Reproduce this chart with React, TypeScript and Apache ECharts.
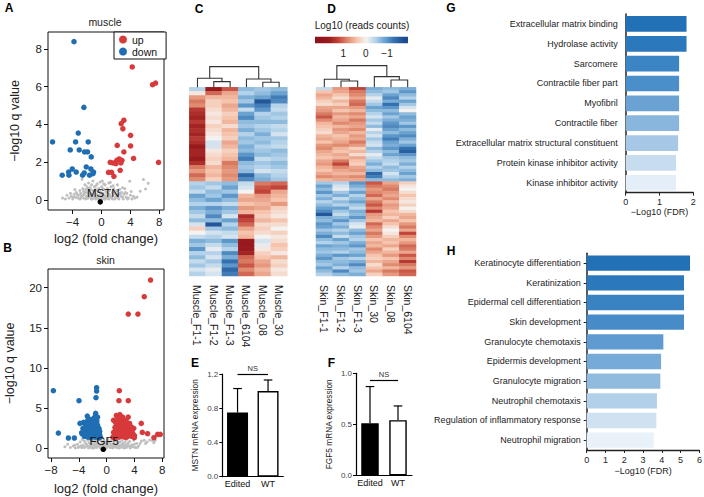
import React, { useEffect, useRef } from "react";
import * as echarts from "echarts";

const FONT = "'Liberation Sans', Arial, Helvetica, sans-serif";

// ---------- Panel A: muscle volcano ----------
const muscleUp = [[4.25,7.04],[7.06,6.1],[7.48,6.19],[3.09,4.22],[2.72,4.04],[2.95,3.77],[4.02,3.42],[2.17,2.89],[4.02,2.86],[3.09,2.54],[4.43,2.2],[7.89,1.99],[1.2,1.99],[1.57,1.96],[2.12,2.1],[2.45,2.17],[2.68,1.96],[1.98,1.92],[2.82,2.1],[0.97,1.46],[1.39,1.46],[1.71,1.25],[2.58,1.57]];
const muscleDown = [[-3.82,8.38],[-2.45,4.9],[-6.79,3.07],[-3.23,3.54],[-3.6,3.07],[-1.85,3.07],[-4.34,2.65],[-3.09,2.65],[-2.35,2.54],[-1.94,2.54],[-1.43,2.28],[-4.06,1.64],[-2.12,1.75],[-1.48,1.64],[-4.57,1.48],[-3.51,1.48],[-2.4,1.43],[-1.11,1.48],[-5.45,1.31],[-4.52,1.31],[-2.63,1.31],[-1.66,1.31],[-1.2,1.39]];
const muscleNS = [[-4.5,0.1],[-4.2,0.2],[-4.0,0.05],[-3.8,0.3],[-3.6,0.15],[-3.5,0.4],[-3.3,0.1],[-3.2,0.25],[-3.0,0.5],[-3.0,0.05],[-2.9,0.35],[-2.8,0.2],[-2.7,1.1],[-2.6,0.6],[-2.5,0.1],[-2.5,0.45],[-2.4,0.3],[-2.3,0.8],[-2.2,0.05],[-2.2,0.55],[-2.1,0.2],[-2.0,0.4],[-2.0,0.7],[-1.9,0.1],[-1.8,0.3],[-1.8,0.9],[-1.7,0.5],[-1.6,0.15],[-1.6,0.65],[-1.5,0.35],[-1.4,0.05],[-1.4,0.8],[-1.3,0.25],[-1.2,0.5],[-1.2,1.0],[-1.1,0.1],[-1.0,0.4],[-1.0,0.7],[-0.9,0.2],[-0.8,0.55],[-0.8,0.05],[-0.7,0.3],[-0.6,0.85],[-0.6,0.15],[-0.5,0.45],[-0.4,0.05],[-0.4,0.6],[-0.3,0.25],[-0.2,0.95],[-0.2,0.1],[-0.1,0.4],[0.0,0.2],[0.0,0.7],[0.1,0.05],[0.1,1.0],[0.2,0.35],[0.3,0.55],[0.3,0.1],[0.4,0.25],[0.5,0.8],[0.5,0.05],[0.6,0.45],[0.7,0.2],[0.8,0.6],[0.8,0.1],[0.9,0.35],[1.0,0.9],[1.0,0.05],[1.1,0.5],[1.2,0.2],[1.2,0.93],[1.3,0.7],[1.4,0.1],[1.5,0.4],[1.6,0.25],[1.7,0.6],[1.8,0.05],[1.9,0.35],[2.0,0.15],[2.1,0.5],[2.2,0.8],[2.3,0.1],[2.4,0.3],[2.5,0.55],[2.7,0.2],[2.8,0.4],[3.0,0.05],[3.1,0.3],[3.2,0.6],[3.4,0.15],[3.5,0.35],[3.7,0.1],[3.9,0.99],[4.0,0.25],[4.2,0.05],[4.4,0.2],[4.6,0.1],[4.9,0.15],[5.35,0.46],[5.8,1.08],[6.1,0.58],[6.46,0.88],[-5.0,0.05],[-5.4,0.1],[-4.8,0.25],
  [-3.9,0.15],[-3.4,0.3],[-2.9,0.1],[-2.6,0.25],[-2.3,0.4],[-2.0,0.1],[-1.7,0.25],[-1.5,0.55],[-1.3,0.05],[-1.1,0.3],[-0.9,0.45],[-0.7,0.1],[-0.5,0.2],[-0.3,0.5],[-0.1,0.1],[0.1,0.3],[0.2,0.6],[0.4,0.05],[0.6,0.15],[0.7,0.4],[0.9,0.1],[1.1,0.3],[1.3,0.15],[1.5,0.05],[1.7,0.35],[1.9,0.1],[2.1,0.25],[2.4,0.05],[2.6,0.35],[2.9,0.15],[3.3,0.4],[3.6,0.05],[-4.3,0.35],[-3.7,0.55],[-1.9,0.6],[0.3,0.85],[1.6,0.75],[2.9,0.65],[-0.8,0.75],[4.1,0.45]];
const muscleGene = [[-0.18, -0.1]];
const muscleGeneName = "MSTN";
const muscleXTicks = [-4, 0, 4, 8];
const muscleYTicks = [0, 2, 4, 6, 8];

// ---------- Panel B: skin volcano ----------
const skinUp = [[6.32,20.95],[5.41,18.88],[3.11,16.72],[4.5,16.72],[1.82,7.18],[1.77,5.93],[3.11,5.93],[4.98,3.11],[5.13,1.99],[5.89,1.83],[7.33,1.74],[7.71,1.74],[6.8,1.33],[3.98,1.33],[0.9,1.4],[1.0,2.0],[1.1,1.6],[1.2,2.6],[1.2,1.3],[1.3,3.2],[1.4,1.9],[1.4,4.1],[1.5,2.3],[1.5,1.5],[1.6,3.8],[1.6,2.8],[1.7,1.7],[1.7,2.1],[1.8,3.4],[1.8,1.4],[1.9,2.5],[1.9,4.2],[2.0,1.9],[2.0,3.0],[2.1,1.5],[2.1,2.7],[2.2,3.6],[2.2,2.2],[2.3,1.6],[2.3,3.9],[2.4,2.9],[2.4,1.8],[2.5,2.4],[2.5,3.3],[2.6,1.4],[2.6,2.0],[2.7,3.0],[2.7,2.6],[2.8,1.7],[2.8,3.5],[2.9,2.2],[3.0,1.5],[3.0,2.8],[3.1,3.9],[3.1,1.9],[3.2,2.4],[3.3,1.6],[3.3,3.1],[3.4,2.1],[3.5,2.7],[3.6,1.5],[3.7,2.3],[3.8,1.8],[3.9,2.5],[4.0,1.6],[1.0,3.5],[1.3,2.4],[2.0,2.4],[2.9,1.4]];
const skinDown = [[-7.66,7.18],[-1.44,7.55],[-1.44,7.14],[-1.53,6.31],[-3.97,5.93],[-1.58,4.36],[-2.78,4.02],[-3.83,3.11],[-3.3,3.24],[-6.94,1.91],[-5.5,1.29],[-4.64,1.29],[-3.59,1.95],[-3.5,1.8],[-3.4,2.5],[-3.3,3.2],[-3.2,1.5],[-3.1,2.2],[-3.0,3.0],[-2.9,1.7],[-2.9,2.7],[-2.8,2.0],[-2.7,3.5],[-2.7,1.4],[-2.6,2.4],[-2.5,1.9],[-2.5,3.0],[-2.4,2.6],[-2.3,1.5],[-2.3,3.6],[-2.2,2.1],[-2.1,2.9],[-2.1,1.7],[-2.0,2.4],[-2.0,3.3],[-1.9,1.5],[-1.9,2.0],[-1.8,2.7],[-1.8,3.8],[-1.7,1.8],[-1.7,2.3],[-1.6,3.1],[-1.6,1.4],[-1.5,2.0],[-1.5,2.6],[-1.4,1.6],[-1.4,3.4],[-1.3,2.2],[-1.3,2.9],[-1.2,1.5],[-1.2,1.9],[-1.1,2.5],[-1.1,1.3],[-1.0,1.7],[-1.0,2.1],[-0.9,1.4],[-2.6,1.6],[-3.0,2.6],[-2.2,1.3],[-1.6,4.0],[-1.3,3.9]];
const skinNS = [[-5.2,0.1],[-4.8,0.3],[-4.5,0.05],[-4.2,0.5],[-4.0,0.2],[-3.8,0.8],[-3.6,0.1],[-3.4,0.4],[-3.2,0.9],[-3.1,0.15],[-3.0,0.6],[-2.8,0.3],[-2.7,1.0],[-2.6,0.05],[-2.5,0.7],[-2.4,0.35],[-2.3,1.1],[-2.2,0.15],[-2.1,0.55],[-2.0,0.9],[-1.9,0.25],[-1.8,0.05],[-1.7,0.7],[-1.6,1.0],[-1.5,0.4],[-1.4,0.1],[-1.3,0.8],[-1.2,0.3],[-1.1,1.1],[-1.0,0.5],[-0.9,0.05],[-0.8,0.9],[-0.7,0.3],[-0.6,0.6],[-0.5,0.1],[-0.4,1.0],[-0.3,0.4],[-0.2,0.2],[-0.1,0.75],[0.0,0.05],[0.1,0.5],[0.2,1.1],[0.3,0.25],[0.4,0.8],[0.5,0.1],[0.6,0.55],[0.7,1.0],[0.8,0.35],[0.9,0.05],[1.0,0.7],[1.1,0.2],[1.2,0.95],[1.3,0.45],[1.4,0.1],[1.5,0.65],[1.6,1.1],[1.7,0.3],[1.8,0.05],[1.9,0.8],[2.0,0.4],[2.1,0.15],[2.2,1.0],[2.3,0.6],[2.4,0.25],[2.5,0.05],[2.6,0.75],[2.7,0.4],[2.8,1.05],[2.9,0.15],[3.0,0.5],[3.2,0.3],[3.3,0.85],[3.4,0.05],[3.6,0.45],[3.8,0.2],[3.9,1.0],[4.1,0.1],[4.3,0.6],[4.6,0.3],[5.0,0.9],[5.4,1.0],[5.8,0.8],[6.2,1.05],[6.6,0.95],[7.0,1.0],[-6.0,0.2],[-0.5,0.35],[0.5,0.3],[-1.5,0.2],[1.5,0.15],
  [-4.6,0.4],[-4.1,0.1],[-3.7,0.3],[-3.3,0.1],[-2.9,0.5],[-2.5,0.25],[-2.1,0.05],[-1.8,0.45],[-1.4,0.65],[-1.0,0.25],[-0.7,0.05],[-0.3,0.6],[0.0,0.35],[0.3,0.7],[0.6,0.1],[0.9,0.5],[1.2,0.3],[1.6,0.55],[1.9,0.2],[2.3,0.4],[2.7,0.1],[3.1,0.7],[3.5,0.25],[4.0,0.5],[4.4,0.1],[4.8,0.6],[-5.6,0.5],[5.6,0.6],[6.8,0.7],[-3.5,1.1]];
const skinGene = [[-0.48, -0.12]];
const skinGeneName = "FGF5";
const skinXTicks = [-8, -4, 0, 4, 8];
const skinYTicks = [0, 5, 10, 15, 20];

// ---------- Panel C: muscle heatmap ----------
const muscleSamples = ["Muscle_F1-1", "Muscle_F1-2", "Muscle_F1-3", "Muscle_6104", "Muscle_08", "Muscle_30"];
const muscleF1_1 = [-0.4,0.1,0.7,0.9,0.8,1.3,1.4,1.5,1.3,1.5,1.4,1.5,1.3,1.4,1.6,1.5,1.5,1.6,1.4,0.9,0.7,1.0,0.8, -0.4,-0.5,-0.3,-0.8,-0.6,-0.4,-0.7,-0.5,-0.3,-0.6,-0.2,0.3,0.0,-0.3,-0.7,-0.5,-0.9,-0.4,-0.6,-0.3,-0.5,-0.2,-0.4];
const muscleF1_2 = [1.6,1.0,0.5,0.3,0.3,0.2,0.1,0.2,0.1,0.3,0.2,0.1,0.0,-0.2,-0.2,0.1,0.2,0.3,0.2,0.5,0.4,0.5,0.3, -0.5,-0.3,-0.6,-0.5,-0.8,-0.4,-0.9,-0.7,-1.0,-0.6,-1.5,-0.5,-0.2,-0.4,-0.6,-0.3,-0.1,-0.4,-0.2,-0.5,-0.3,-0.1,-0.2];
const muscleF1_3 = [1.1,0.6,0.5,0.4,0.6,0.5,0.3,0.4,0.5,0.2,0.5,0.4,0.3,0.6,0.5,0.3,0.4,0.5,0.9,0.8,0.7,0.8,0.7, -0.6,-0.8,-0.5,-0.9,-0.6,-0.3,-0.7,-0.5,-0.2,-0.8,-0.4,-0.6,-0.3,-0.2,-0.9,-0.6,-0.4,-1.0,-0.7,-1.2,-0.9,-1.3,-1.1];
const muscle6104 = [-0.6,-0.4,-0.7,-0.5,-0.9,-0.3,-0.8,-1.0,-0.6,-0.5,-0.7,-0.4,-0.6,-0.5,-0.7,-0.6,-0.9,-1.1,-0.6,-0.5,-0.6,-1.3,-1.0, -0.3,-0.2,0.0,0.5,0.6,0.4,0.7,0.5,1.4,1.2,1.0,0.6,0.4,0.5,1.7,1.8,1.6,1.5,1.0,0.9,1.1,0.8,1.0];
const muscle08 = [-0.5,-0.6,-0.8,-1.5,-1.1,-0.9,-0.4,-0.5,-0.6,-0.4,-0.5,-0.7,-0.5,-0.6,-0.4,-0.5,-0.6,-0.3,-0.5,-0.4,-0.2,-0.6,-0.7, 0.9,1.1,1.2,0.7,0.6,0.5,0.6,0.4,0.3,0.5,0.2,0.3,0.2,0.0,-0.2,-0.1,0.1,0.3,0.4,0.6,0.7,0.5,0.6];
const muscle30 = [-0.6,-0.8,-1.1,-1.0,-0.4,-0.3,-0.5,-0.4,-0.6,-0.3,-0.4,-0.2,-0.5,-0.4,-0.3,-0.6,-0.5,-0.4,-0.6,-0.5,-0.3,-0.4,-0.5, 1.0,1.2,0.6,0.5,0.4,0.7,0.3,0.2,0.1,0.4,0.2,0.0,0.3,0.1,0.2,0.4,0.3,0.1,0.5,0.2,0.3,0.1,0.2];
// merges: [nodeA, nodeB, height]; leaves are 0..5, new nodes numbered from 6
const muscleMerges = [[1, 2, 5.7], [4, 5, 5.0], [0, 6, 9.0], [3, 7, 8.3], [8, 9, 20.7]];

// ---------- Panel D: skin heatmap ----------
const skinSamples = ["Skin_F1-1", "Skin_F1-2", "Skin_F1-3", "Skin_30", "Skin_08", "Skin_6104"];
const skinF1_1 = [-0.3,0.4,0.6,0.5,0.3,0.2,0.6,0.7,0.9,1.1,0.8,0.5,0.4,0.3,0.2,0.5,0.6,0.4,0.7,0.8,0.6,0.5,0.4,0.6,0.7,0.5,0.4,0.6,0.8,0.5, -0.5,-0.8,-0.6,-0.9,-0.5,-0.7,-0.4,-0.6,-0.8,-1.0,-1.5,-0.7,-0.6,-0.9,-0.8,-0.5,-0.7,-1.0,-0.6,-0.4,-0.8,-0.6,-0.5,-0.7,-0.9,-0.6,-0.5,-0.8,-0.6,-0.4];
const skinF1_2 = [0.7,0.6,0.4,0.2,0.5,0.3,0.6,0.4,0.7,0.5,0.6,0.8,0.5,0.7,0.6,0.4,0.5,0.6,0.8,0.5,0.4,0.6,0.5,0.9,1.2,0.8,0.6,0.5,0.7,0.6, -0.4,-0.2,-0.1,-0.5,-0.7,-0.3,-0.6,-0.4,-0.8,-0.5,-0.3,-0.6,-0.9,-0.5,-0.7,-0.4,-0.6,-0.3,-0.8,-0.5,-0.7,-0.6,-0.4,-0.9,-0.5,-0.6,-0.7,-0.4,-1.0,-0.6];
const skinF1_3 = [1.2,0.9,0.8,0.6,0.9,1.0,0.7,0.5,0.8,0.6,0.9,0.7,0.6,0.8,0.5,0.7,0.6,0.9,0.7,0.3,0.5,0.2,0.6,0.4,0.3,0.6,0.7,0.5,0.8,0.6, -0.9,-0.7,-0.5,-0.8,-0.4,-0.6,-0.8,-0.5,-0.3,-0.7,-0.6,-0.9,-0.5,-0.2,-0.1,-0.6,-0.8,-0.5,-0.4,-0.7,-0.9,-0.5,-0.6,-0.8,-0.4,-0.7,-1.0,-0.6,-0.5,-0.7];
const skin30 = [-0.7,-0.6,-0.4,-0.1,-0.3,-0.5,-0.8,-0.6,-0.4,-0.2,-0.5,-0.3,-0.6,-0.1,-0.4,-0.2,-0.5,-0.3,-0.2,-0.6,-0.4,-0.1,-0.3,-0.5,-0.7,-0.4,-0.6,-1.3,-1.1,-0.6, 1.1,0.9,0.7,0.8,1.0,0.6,0.9,1.1,0.8,1.3,0.7,0.6,0.5,1.0,0.8,0.6,0.9,0.7,0.4,0.6,0.5,0.8,0.6,0.4,0.3,0.5,0.2,0.4,0.6,0.3];
const skin08 = [-0.6,-0.5,-0.8,-1.0,-0.7,-1.2,-0.9,-0.6,-0.8,-0.5,-0.7,-0.9,-1.0,-0.8,-0.6,-0.9,-1.1,-0.8,-0.7,-0.9,-0.6,-0.8,-0.5,-0.4,-0.3,-0.6,-0.5,-0.2,-0.4,-0.6, 0.6,0.8,0.9,0.7,0.6,0.8,0.5,0.7,0.6,0.4,0.5,0.3,0.6,0.4,0.2,0.0,0.1,0.3,0.5,0.4,0.6,0.3,0.5,0.7,0.4,0.6,0.8,0.5,0.9,0.7];
const skin6104 = [-0.7,-0.9,-0.6,-0.4,-0.8,-0.5,-0.2,0.0,-0.6,-0.8,-0.7,-0.5,-0.9,-0.6,-0.8,-1.0,-0.7,-0.5,-0.8,-1.2,-1.4,-0.9,-0.6,-0.5,-0.7,-0.4,-0.6,-0.8,-0.5,-0.7, 0.3,0.1,0.0,0.2,0.4,0.2,0.1,0.3,0.0,0.2,0.5,0.6,0.4,0.7,0.9,0.6,1.2,0.8,0.5,0.7,1.0,0.9,0.6,1.1,0.8,1.3,0.9,0.7,1.1,1.0];
const skinMerges = [[1, 2, 6.3], [4, 5, 7.3], [0, 6, 8.0], [3, 7, 10.7], [8, 9, 21.7]];
const colorbarLabels = ["1", "0", "\u22121"];

// ---------- Panels E, F: qPCR ----------
const qpcrGroups = ["Edited", "WT"];
const mstnMean = [0.75, 1.0];
const mstnUpper = [1.03, 1.13];
const fgf5Mean = [0.51, 0.54];
const fgf5Upper = [0.87, 0.68];

// ---------- Panels G, H: GO enrichment ----------
const goMuscleTerms = ["Extracellular matrix binding", "Hydrolase activity", "Sarcomere", "Contractile fiber part", "Myofibril", "Contractile fiber", "Extracellular matrix structural constituent", "Protein kinase inhibitor activity", "Kinase inhibitor activity"];
const goMuscleValues = [1.8, 1.8, 1.58, 1.58, 1.58, 1.58, 1.55, 1.49, 1.49];
const goSkinTerms = ["Keratinocyte differentiation", "Keratinization", "Epidermal cell differentiation", "Skin development", "Granulocyte chemotaxis", "Epidermis development", "Granulocyte migration", "Neutrophil chemotaxis", "Regulation of inflammatory response", "Neutrophil migration"];
const goSkinValues = [5.5, 5.18, 5.18, 5.18, 4.08, 3.96, 3.92, 3.74, 3.71, 3.57];

const goMuscleColors = ["#2270b6", "#2c78bc", "#3c85c4", "#4a8eca", "#6aa2d4", "#89b6dd", "#a6c8e6", "#c7dcef", "#e4eef8"];
const goSkinColors = ["#2270b6", "#2c78bc", "#3a83c3", "#478cc9", "#5f9bd0", "#76aad7", "#90bbdf", "#b3d0ea", "#d0e2f2", "#e9f1f9"];
const heatColors = ["#1e4f8f", "#3470b0", "#6aa2d0", "#b4d3ea", "#f5f3f1", "#f6c4ad", "#e08a6f", "#c1443a", "#981a1d"];

const RED = "#d8393a";
const BLUE = "#1f6eb3";
const GREY = "#bfbfbf";

const minus = (v: number) => String(v).replace("-", "\u2212");

function dendroLines(merges: number[][], n: number) {
  const pos: number[] = [];
  const hs: number[] = [];
  for (let i = 0; i < n; i++) { pos.push(i); hs.push(0); }
  const out: any[] = [];
  merges.forEach(([a, b, h]) => {
    out.push({ coords: [[pos[a], hs[a]], [pos[a], h], [pos[b], h], [pos[b], hs[b]]] });
    pos.push((pos[a] + pos[b]) / 2);
    hs.push(h);
  });
  return out;
}

function heatData(cols: number[][]) {
  const d: number[][] = [];
  cols.forEach((col, c) => col.forEach((v, r) => d.push([c, r, v])));
  return d;
}

function volX(gi: number, min: number, max: number, ticks: number[], nameGap: number) {
  return {
    type: "value", gridIndex: gi, min, max,
    axisLine: { show: false, onZero: false }, splitLine: { show: false },
    axisTick: { show: true, inside: false, length: 4, customValues: ticks, lineStyle: { color: "#111" } },
    axisLabel: { customValues: ticks, margin: 6, fontSize: 11.5, color: "#222", fontFamily: FONT, formatter: (v: number) => minus(v) },
    name: "log2 (fold change)", nameLocation: "middle", nameGap,
    nameTextStyle: { fontSize: 13, color: "#222", fontFamily: FONT },
  };
}
function volY(gi: number, min: number, max: number, ticks: number[], nameGap: number) {
  return {
    type: "value", gridIndex: gi, min, max,
    axisLine: { show: false, onZero: false }, splitLine: { show: false },
    axisTick: { show: true, inside: false, length: 4, customValues: ticks, lineStyle: { color: "#111" } },
    axisLabel: { customValues: ticks, margin: 6, fontSize: 11.5, color: "#222", fontFamily: FONT, formatter: (v: number) => minus(v) },
    name: "\u2212log10 q value", nameLocation: "middle", nameRotate: 90, nameGap,
    nameTextStyle: { fontSize: 12.5, color: "#222", fontFamily: FONT },
  };
}

function heatX(gi: number, samples: string[]) {
  return {
    type: "category", gridIndex: gi, data: samples,
    axisLine: { show: false }, axisTick: { show: false }, splitLine: { show: false },
    axisLabel: { rotate: -90, margin: 9, fontSize: 10.5, color: "#222", interval: 0, fontFamily: FONT },
  };
}
function heatY(gi: number, n: number) {
  return { type: "category", gridIndex: gi, data: Array.from({ length: n }, (_, i) => String(i)), inverse: true, show: false };
}

function qX(gi: number) {
  return {
    type: "category", gridIndex: gi, data: qpcrGroups,
    axisLine: { show: true, onZero: false, lineStyle: { color: "#000", width: 1.2 } },
    axisTick: { show: false }, splitLine: { show: false },
    axisLabel: { fontSize: 9, color: "#111", margin: 3, fontFamily: FONT, interval: 0, hideOverlap: false },
  };
}
function qY(gi: number, max: number, interval: number, name: string) {
  return {
    type: "value", gridIndex: gi, min: 0, max, interval,
    axisLine: { show: true, onZero: false, lineStyle: { color: "#000", width: 1.2 } },
    axisTick: { show: true, inside: false, length: 3, lineStyle: { color: "#000" } },
    splitLine: { show: false },
    axisLabel: { fontSize: 8, color: "#444", margin: 4, fontFamily: FONT, formatter: (v: number) => v.toFixed(1) },
    name, nameLocation: "middle", nameRotate: 90, nameGap: 23,
    nameTextStyle: { fontSize: 8.3, color: "#222", fontFamily: FONT },
  };
}

function goX(gi: number, max: number, nameGap: number) {
  return {
    type: "value", gridIndex: gi, min: 0, max, interval: 1,
    axisLine: { show: true, onZero: false, lineStyle: { color: "#222", width: 1.3 } },
    axisTick: { show: true, inside: false, length: 3, lineStyle: { color: "#222" } },
    splitLine: { show: false },
    axisLabel: { fontSize: 9, color: "#222", margin: 5, fontFamily: FONT },
    name: "\u2212Log10 (FDR)", nameLocation: "middle", nameGap,
    nameTextStyle: { fontSize: 9, color: "#222", fontFamily: FONT },
  };
}
function goY(gi: number, terms: string[], ticks: boolean) {
  return {
    type: "category", gridIndex: gi, data: terms, inverse: true,
    axisLine: { show: true, onZero: false, lineStyle: { color: "#222", width: 1.5 } },
    axisTick: { show: ticks, inside: false, length: 3, alignWithLabel: true, lineStyle: { color: "#222" } },
    splitLine: { show: false },
    axisLabel: { fontSize: 9, color: "#222", margin: ticks ? 6 : 8, fontFamily: FONT, interval: 0 },
  };
}

const errRender = (params: any, api: any) => {
  const x = api.value(0);
  const base = api.coord([x, api.value(1)]);
  const top = api.coord([x, api.value(2)]);
  const w = 4.3;
  const st = { stroke: "#000", lineWidth: 1.2 };
  return {
    type: "group",
    children: [
      { type: "line", shape: { x1: base[0], y1: base[1], x2: top[0], y2: top[1] }, style: st },
      { type: "line", shape: { x1: top[0] - w, y1: top[1], x2: top[0] + w, y2: top[1] }, style: st },
    ],
  };
};

function nsLine(y: number) {
  return {
    symbol: "none", silent: true,
    lineStyle: { color: "#000", width: 1.2, type: "solid" },
    label: { show: true, position: "middle", formatter: "NS", fontSize: 7.5, color: "#333", distance: 2, fontFamily: FONT },
    data: [[{ coord: [0, y] }, { coord: [1, y] }]],
  };
}

function buildOption() {
  const grids = [
    { left: 48, top: 32, width: 116, height: 178, show: true, borderColor: "#111", borderWidth: 1 },
    { left: 48, top: 269, width: 116, height: 189, show: true, borderColor: "#111", borderWidth: 1 },
    { left: 189.3, top: 87.3, width: 98, height: 188.7 },
    { left: 316, top: 87.3, width: 100, height: 188.7 },
    { left: 189.3, top: 66.6, width: 98, height: 20.7 },
    { left: 316, top: 65.6, width: 100, height: 21.7 },
    { left: 222.3, top: 374, width: 61, height: 102.7 },
    { left: 356, top: 373.3, width: 56, height: 102 },
    { left: 625.7, top: 14, width: 67.6, height: 178.7 },
    { left: 586.7, top: 253.3, width: 112.7, height: 196.7 },
  ].map((g) => ({ ...g, containLabel: false, outerBoundsMode: "none" }));

  const muscleCols = [muscleF1_1, muscleF1_2, muscleF1_3, muscle6104, muscle08, muscle30];
  const skinCols = [skinF1_1, skinF1_2, skinF1_3, skin30, skin08, skin6104];

  const xAxis: any[] = [
    volX(0, -7.42, 8.65, muscleXTicks, 21.5),
    volX(1, -8.43, 8.25, skinXTicks, 23.5),
    heatX(2, muscleSamples),
    heatX(3, skinSamples),
    { type: "value", gridIndex: 4, min: -0.5, max: 5.5, show: false },
    { type: "value", gridIndex: 5, min: -0.5, max: 5.5, show: false },
    qX(6),
    qX(7),
    goX(8, 2, 13.5),
    goX(9, 6, 16),
  ];
  const yAxis: any[] = [
    volY(0, -0.53, 8.89, muscleYTicks, 26.5),
    volY(1, -1.2, 22.33, skinYTicks, 32),
    heatY(2, muscleF1_1.length),
    heatY(3, skinF1_1.length),
    { type: "value", gridIndex: 4, min: 0, max: 20.7, show: false },
    { type: "value", gridIndex: 5, min: 0, max: 21.7, show: false },
    qY(6, 1.2, 0.4, "MSTN mRNA expression"),
    qY(7, 1.0, 0.5, "FGF5 mRNA expression"),
    goY(8, goMuscleTerms, false),
    goY(9, goSkinTerms, true),
  ];

  const series: any[] = [];
  const scat = (gi: number, name: string, data: number[][], color: string, size: number, extra: any = {}) =>
    series.push({ type: "scatter", name, xAxisIndex: gi, yAxisIndex: gi, data, symbolSize: size, itemStyle: { color, opacity: 1 }, silent: true, ...extra });

  scat(0, "ns", muscleNS, GREY, 3);
  scat(0, "down", muscleDown, BLUE, 5.5);
  scat(0, "up", muscleUp, RED, 5.5);
  scat(0, "gene", muscleGene, "#000", 5.5, {
    label: { show: true, position: "top", distance: 0, offset: [3, 0], formatter: muscleGeneName, fontSize: 11.5, color: "#111", fontFamily: FONT },
  });
  scat(1, "ns", skinNS, GREY, 3);
  scat(1, "down", skinDown, BLUE, 5.5);
  scat(1, "up", skinUp, RED, 5.5);
  scat(1, "gene", skinGene, "#000", 5.5, {
    label: { show: true, position: "top", distance: 0, offset: [1, 0], formatter: skinGeneName, fontSize: 11.5, color: "#111", fontFamily: FONT },
  });

  const heatIdx: number[] = [];
  heatIdx.push(series.length);
  series.push({ type: "heatmap", xAxisIndex: 2, yAxisIndex: 2, data: heatData(muscleCols), itemStyle: { borderWidth: 0 }, silent: true });
  heatIdx.push(series.length);
  series.push({ type: "heatmap", xAxisIndex: 3, yAxisIndex: 3, data: heatData(skinCols), itemStyle: { borderWidth: 0 }, silent: true });

  series.push({ type: "lines", coordinateSystem: "cartesian2d", xAxisIndex: 4, yAxisIndex: 4, polyline: true, silent: true, data: dendroLines(muscleMerges, 6), lineStyle: { color: "#333", width: 1.1, opacity: 1 } });
  series.push({ type: "lines", coordinateSystem: "cartesian2d", xAxisIndex: 5, yAxisIndex: 5, polyline: true, silent: true, data: dendroLines(skinMerges, 6), lineStyle: { color: "#333", width: 1.1, opacity: 1 } });

  const qBars = (gi: number, means: number[], uppers: number[], bw: number, nsY: number) => {
    series.push({
      type: "bar", xAxisIndex: gi, yAxisIndex: gi, barWidth: bw, silent: true,
      data: means.map((v, i) => ({ value: v, itemStyle: { color: i === 0 ? "#000" : "#fff", borderColor: "#000", borderWidth: 1.4 } })),
      markLine: nsLine(nsY),
    });
    series.push({
      type: "custom", xAxisIndex: gi, yAxisIndex: gi, silent: true, renderItem: errRender,
      encode: { x: 0, y: [1, 2] },
      data: means.map((v, i) => [i, v, uppers[i]]),
      z: 5,
    });
  };
  qBars(6, mstnMean, mstnUpper, 21, 1.2);
  qBars(7, fgf5Mean, fgf5Upper, 17.5, 0.93);

  series.push({ type: "bar", xAxisIndex: 8, yAxisIndex: 8, barCategoryGap: "21%", silent: true, data: goMuscleValues.map((v, i) => ({ value: v, itemStyle: { color: goMuscleColors[i] } })) });
  series.push({ type: "bar", xAxisIndex: 9, yAxisIndex: 9, barCategoryGap: "22%", silent: true, data: goSkinValues.map((v, i) => ({ value: v, itemStyle: { color: goSkinColors[i] } })) });

  const letter = (t: string, x: number, y: number) => ({
    type: "text", x, y, silent: true,
    style: { text: t, fontSize: 12, fontWeight: "bold", fontFamily: FONT, fill: "#000", align: "center", verticalAlign: "middle" },
  });
  const txt = (t: string, x: number, y: number, size: number) => ({
    type: "text", x, y, silent: true,
    style: { text: t, fontSize: size, fontFamily: FONT, fill: "#222", align: "center", verticalAlign: "middle" },
  });

  const cbX0 = 315, cbW = 93;
  const graphic: any[] = [
    letter("A", 9, 8), letter("B", 7.5, 248), letter("C", 199, 9), letter("D", 331.5, 9),
    letter("E", 195, 363), letter("F", 331.5, 363), letter("G", 451, 8), letter("H", 451, 251),
    txt("muscle", 105, 22, 10.5), txt("skin", 105.5, 260, 10.5),
    txt("Log10 (reads counts)", 362, 25, 10),
    {
      type: "rect", silent: true,
      shape: { x: cbX0, y: 36.7, width: cbW, height: 6.6 },
      style: {
        fill: new echarts.graphic.LinearGradient(0, 0, 1, 0, [
          { offset: 0, color: "#8a1219" }, { offset: 0.15, color: "#981a1d" }, { offset: 0.25, color: "#c1443a" },
          { offset: 0.35, color: "#e08a6f" }, { offset: 0.45, color: "#f6c4ad" }, { offset: 0.55, color: "#f5f3f1" },
          { offset: 0.65, color: "#b4d3ea" }, { offset: 0.75, color: "#6aa2d0" }, { offset: 0.85, color: "#3470b0" },
          { offset: 0.95, color: "#1e4f8f" }, { offset: 1, color: "#1b4a85" },
        ]),
      },
    },
    txt(colorbarLabels[0], 343.3, 53.3, 10), txt(colorbarLabels[1], 365.7, 53.3, 10), txt(colorbarLabels[2], 387, 53.3, 10),
  ];

  return {
    animation: false,
    backgroundColor: "#fff",
    textStyle: { fontFamily: FONT },
    grid: grids,
    xAxis,
    yAxis,
    legend: {
      data: ["up", "down"], left: 114, top: 32, orient: "vertical", icon: "circle",
      itemWidth: 8, itemHeight: 8, itemGap: 1, padding: [2, 9, 2, 5],
      borderColor: "#111", borderWidth: 1, backgroundColor: "#fff", selectedMode: false,
      textStyle: { fontSize: 10.5, color: "#111", fontFamily: FONT },
    },
    visualMap: {
      type: "continuous", show: false, min: -1.6, max: 1.6, seriesIndex: heatIdx,
      inRange: { color: heatColors },
    },
    series,
    graphic,
  };
}

export default function App() {
  const ref = useRef<HTMLDivElement>(null);
  useEffect(() => {
    const chart = echarts.init(ref.current!, null, { renderer: "svg" });
    chart.setOption(buildOption() as any);
    return () => chart.dispose();
  }, []);
  return (
    <div
      ref={ref}
      style={{ position: "absolute", left: 0, top: 0, width: 704, height: 497, background: "#fff" }}
    />
  );
}
